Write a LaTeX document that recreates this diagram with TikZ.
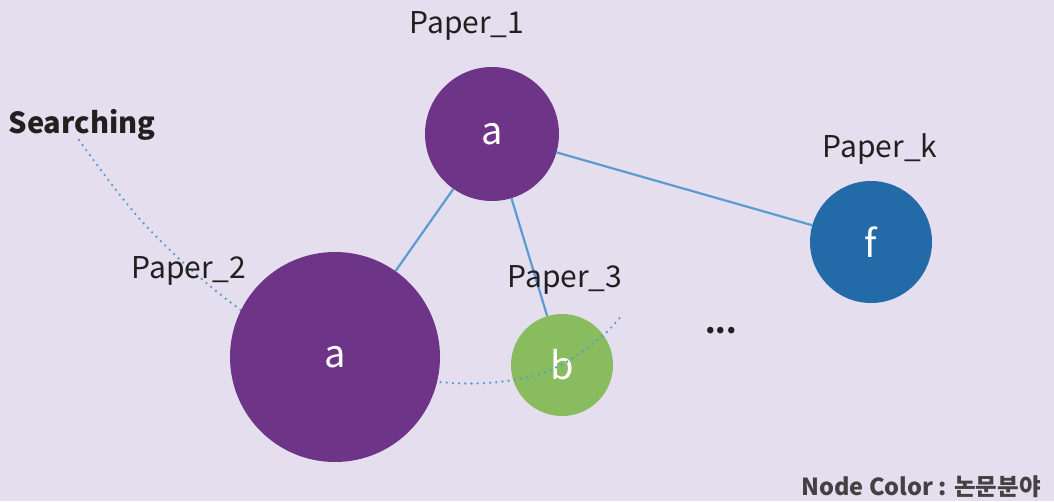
\documentclass[tikz,border=0pt]{standalone}
\usepackage{fontspec}
\setmainfont{Noto Sans CJK KR}
\definecolor{bgc}{HTML}{E5DEEE}
\definecolor{purp}{HTML}{6E3487}
\definecolor{grn}{HTML}{88BC5E}
\definecolor{blu}{HTML}{236BA8}
\definecolor{edgec}{HTML}{5A9BD0}
\definecolor{txt}{HTML}{231F20}
\begin{document}
\begin{tikzpicture}[x=1pt,y=-1pt,
  paper/.style={circle,inner sep=0pt,text=white,font=\fontsize{38}{42}\selectfont},
  lbl/.style={text=txt,font=\fontsize{30}{34}\selectfont,inner sep=0pt},
  link/.style={draw=edgec,line width=2.2pt},
  trail/.style={draw=edgec,line width=2.6pt,line cap=round,dash pattern=on 0pt off 6.2pt}]
\fill[bgc] (0,0) rectangle (1054,501);
\useasboundingbox (0,0) rectangle (1054,501);
\node[paper,fill=purp,minimum size=134pt] (p1) at (492,134) {a};
\node[paper,fill=grn,minimum size=102pt] (p3) at (562,365) {b};
\node[paper,fill=blu,minimum size=122pt] (pk) at (871,242) {f};
\draw[trail] plot[smooth,tension=0.6] coordinates {(79,140) (147,227) (238,308) (335,365) (439,382) (507,381) (557,367) (600,338) (622,315)};
\node[paper,fill=purp,minimum size=210pt] (p2) at (335,357) {a};
\draw[link] (p1) -- (p2);
\draw[link] (p1) -- (p3);
\draw[link] (p1) -- (pk);
\node[lbl] (l1) at (467,26) {Paper\_1};
\node[lbl] (l2) at (189,271) {Paper\_2};
\node[lbl] (l3) at (565,280) {Paper\_3};
\node[lbl] (lk) at (880,149) {Paper\_k};
\node[lbl,font=\fontsize{29}{32}\selectfont\bfseries] (srch) at (82,125) {Searching};
\node[lbl,font=\fontsize{30}{32}\selectfont\bfseries] (dots) at (721,331) {...};
\node[lbl,anchor=east,font=\fontsize{23.5}{26}\selectfont\bfseries,text=txt!85] (legend) at (1041,487) {Node Color : 논문분야};
\end{tikzpicture}
\end{document}
